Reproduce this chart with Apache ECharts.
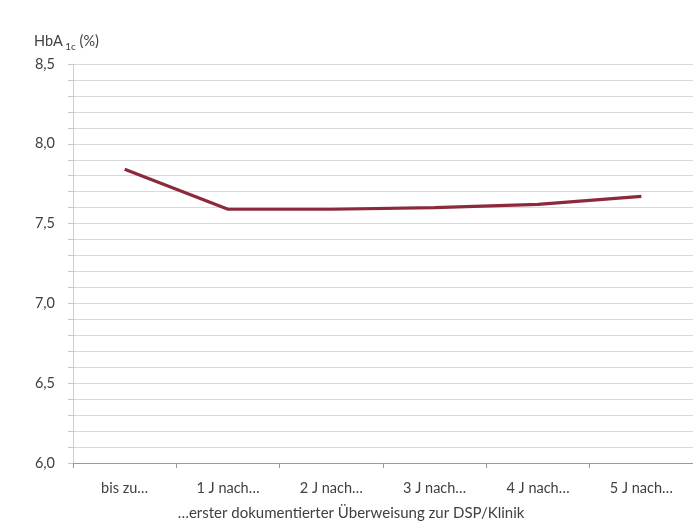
<!DOCTYPE html>
<html>
<head>
<meta charset="utf-8">
<script src="https://cdn.jsdelivr.net/npm/echarts@6/dist/echarts.min.js"></script>
<style>
  html, body { margin: 0; padding: 0; background: #ffffff; }
  #chart { width: 693px; height: 524px; }
</style>
</head>
<body>
<div id="chart"></div>
<script>
// HbA1c over time after first documented referral
const categories = ['bis zu…', '1 J nach…', '2 J nach…', '3 J nach…', '4 J nach…', '5 J nach…'];
const hba1cValues = [7.84, 7.59, 7.59, 7.60, 7.62, 7.67];
const yMin = 6.0;
const yMax = 8.5;
const yStep = 0.1;
const xAxisTitle = '…erster dokumentierter Überweisung zur DSP/Klinik';

const font = 'Lato, "Open Sans", sans-serif';
const textColor = '#404040';

const chart = echarts.init(document.getElementById('chart'), null, { renderer: 'canvas' });

chart.setOption({
  animation: false,
  backgroundColor: '#ffffff',
  grid: { left: 73, right: -4, top: 64, bottom: 61, containLabel: false },
  xAxis: {
    type: 'category',
    data: categories,
    boundaryGap: true,
    axisLine: { show: true, lineStyle: { color: '#9a9a9a', width: 1 } },
    axisTick: { show: true, length: 5, alignWithLabel: false, lineStyle: { color: '#9a9a9a' } },
    axisLabel: { color: textColor, fontFamily: font, fontSize: 14.5, margin: 18 },
    splitLine: { show: false }
  },
  yAxis: {
    type: 'value',
    min: yMin,
    max: yMax,
    interval: yStep,
    axisLine: { show: true, lineStyle: { color: '#d0d0d0', width: 1 } },
    axisTick: { show: true, length: 5, lineStyle: { color: '#c8c8c8' } },
    axisLabel: {
      color: textColor,
      fontFamily: font,
      fontSize: 14.5,
      margin: 18,
      formatter: function (v) {
        const r = Math.round(v * 10);
        return r % 5 === 0 ? (r / 10).toFixed(1).replace('.', ',') : '';
      }
    },
    splitLine: { show: true, lineStyle: { color: '#d9d9d9', width: 1 } }
  },
  series: [{
    type: 'line',
    data: hba1cValues,
    symbol: 'none',
    smooth: false,
    lineStyle: { color: '#8c2a3c', width: 3.2 },
    itemStyle: { color: '#8c2a3c' }
  }],
  graphic: [
    {
      type: 'text',
      left: 34,
      top: 34,
      style: {
        text: '{m|HbA}{s| 1c}{m| (%)}',
        rich: {
          m: { fontFamily: font, fontSize: 14.5, fill: textColor, verticalAlign: 'bottom' },
          s: { fontFamily: font, fontSize: 10, fill: textColor, verticalAlign: 'bottom', padding: [0, 0, -3, 0] }
        }
      }
    },
    {
      type: 'text',
      x: 351,
      y: 506,
      style: {
        text: xAxisTitle,
        fontFamily: font,
        fontSize: 15,
        fill: textColor,
        textAlign: 'center'
      }
    }
  ]
});
</script>
</body>
</html>
